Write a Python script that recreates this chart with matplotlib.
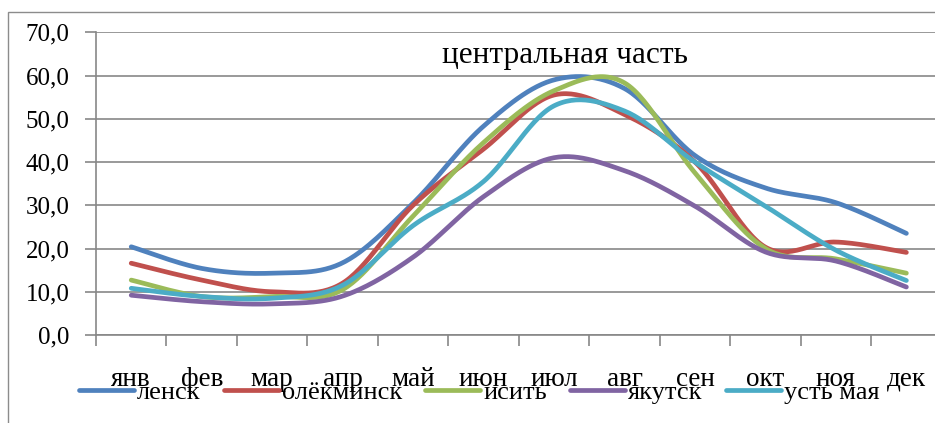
import numpy as np
import matplotlib
matplotlib.use("Agg")
import matplotlib.pyplot as plt
from matplotlib.patches import Rectangle
from matplotlib.ticker import FuncFormatter, FixedLocator

plt.rcParams['font.family'] = ['Liberation Serif', 'DejaVu Serif']

months = ['янв', 'фев', 'мар', 'апр', 'май', 'июн',
          'июл', 'авг', 'сен', 'окт', 'ноя', 'дек']

lensk = [20.4, 15.4, 14.3, 16.7, 30.5, 48.3, 59.0, 57.0, 41.5, 34.0, 30.6, 23.5]
olekminsk = [16.6, 12.7, 10.0, 12.0, 30.0, 43.0, 55.5, 51.0, 40.0, 20.3, 21.5, 19.1]
isit = [12.7, 8.9, 8.9, 10.5, 27.5, 44.5, 56.5, 58.3, 37.5, 20.0, 17.6, 14.3]
yakutsk = [9.2, 7.7, 7.2, 9.0, 18.0, 32.0, 41.0, 38.0, 29.8, 19.2, 17.1, 11.1]
ust_maya = [10.8, 8.9, 8.5, 11.5, 25.3, 35.5, 53.0, 51.8, 40.0, 29.8, 19.6, 12.6]

series = [('ленск', lensk, '#4F81BD'),
          ('олёкминск', olekminsk, '#C0504D'),
          ('исить', isit, '#9BBB59'),
          ('якутск', yakutsk, '#8064A2'),
          ('усть мая', ust_maya, '#4BACC6')]


def smooth(y, steps=30):
    # bezier smoothing through every point, like a "smoothed line" chart
    y = np.asarray(y, float)
    x = np.arange(len(y), dtype=float)
    px = np.concatenate([[x[0]], x, [x[-1]]])
    py = np.concatenate([[y[0]], y, [y[-1]]])
    t = np.linspace(0, 1, steps)[:, None]
    xs, ys = [], []
    for i in range(len(y) - 1):
        p0 = np.array([x[i], y[i]])
        p3 = np.array([x[i + 1], y[i + 1]])
        p1 = p0 + (np.array([px[i + 2], py[i + 2]]) - np.array([px[i], py[i]])) / 6
        p2 = p3 - (np.array([px[i + 3], py[i + 3]]) - np.array([px[i + 1], py[i + 1]])) / 6
        b = ((1 - t) ** 3) * p0 + 3 * ((1 - t) ** 2) * t * p1 + 3 * (1 - t) * t ** 2 * p2 + t ** 3 * p3
        xs.append(b[:, 0])
        ys.append(b[:, 1])
    return np.concatenate(xs), np.concatenate(ys)


fig = plt.figure(figsize=(9.35, 4.23), dpi=100)
ax = fig.add_axes([96 / 935, 88 / 423, 845.6 / 935, 302.7 / 423])

grey = '#878787'
for name, vals, color in series:
    sx, sy = smooth(vals)
    ax.plot(sx, sy, color=color, lw=3.4, label=name, solid_capstyle='round', zorder=3)

ax.set_xlim(-0.5, 11.5)
ax.set_ylim(0, 70)
ax.set_yticks(np.arange(0, 71, 10))
ax.yaxis.set_major_formatter(FuncFormatter(lambda v, p: f'{v:.1f}'.replace('.', ',')))
ax.grid(axis='y', color=grey, lw=1.2)
ax.set_axisbelow(True)

ax.xaxis.set_major_locator(FixedLocator(np.arange(-0.5, 12, 1)))
ax.xaxis.set_major_formatter(FuncFormatter(lambda v, p: ''))
ax.set_xticks(np.arange(12), months, minor=True)
ax.tick_params(axis='x', which='minor', length=0, pad=23, labelsize=19.5)
ax.tick_params(axis='x', which='major', length=8, width=1.2, color=grey)
ax.tick_params(axis='y', length=8, width=1.2, color=grey, pad=11, labelsize=18)

for side in ['top', 'right']:
    ax.spines[side].set_visible(False)
for side in ['left', 'bottom']:
    ax.spines[side].set_color(grey)
    ax.spines[side].set_linewidth(1.2)

ax.text(0.555, 0.925, 'центральная часть', transform=ax.transAxes,
        ha='center', va='center', fontsize=22.5)

fig.legend(loc='center left', bbox_to_anchor=(79 / 935, 1 - 392 / 423), ncol=5,
           frameon=False, fontsize=19, handlelength=2.08, handletextpad=0.11,
           columnspacing=0.89, borderpad=0, borderaxespad=0)

# outer chart frame
fig.patches.append(Rectangle((8 / 935, -0.1), 1.2, 1.1 - 12 / 423,
                             transform=fig.transFigure, fill=False,
                             edgecolor='#8c8c8c', lw=1.0))

fig.savefig('out.png', dpi=100)
